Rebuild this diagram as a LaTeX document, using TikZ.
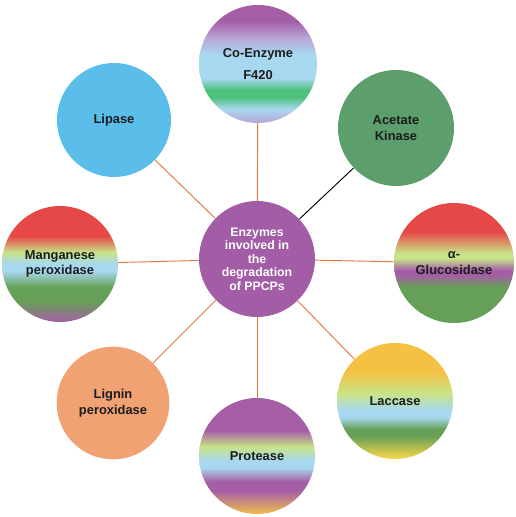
\documentclass[tikz,border=0pt]{standalone}
\usepackage{fontspec}
\setmainfont{Liberation Sans}
\usetikzlibrary{positioning}

\definecolor{hubpurple}{HTML}{A35CA6}
\definecolor{spokeorange}{HTML}{E2763F}
\definecolor{inkdark}{HTML}{1C1C1C}
\definecolor{lipaseblue}{HTML}{5BBDEA}
\definecolor{kinasegreen}{HTML}{5C9E6C}
\definecolor{ligninorange}{HTML}{F0A273}

% band colours
\definecolor{bPurple}{HTML}{A55EA6}
\definecolor{bLavender}{HTML}{B8A6D8}
\definecolor{bSky}{HTML}{A8D8F0}
\definecolor{bMint}{HTML}{4DC07A}
\definecolor{bRed}{HTML}{E64848}
\definecolor{bLime}{HTML}{C8E488}
\definecolor{bGreen}{HTML}{66A058}
\definecolor{bGold}{HTML}{F5C142}
\definecolor{bYellow}{HTML}{EED24A}
\definecolor{bAmber}{HTML}{EBB453}

% shadings run bottom (25bp) to top (75bp)
\pgfdeclareverticalshading{coenzymeshade}{100bp}{
  color(0bp)=(bLavender); color(25bp)=(bLavender); color(31bp)=(bSky);
  color(36bp)=(bMint); color(39bp)=(bMint); color(44bp)=(bSky);
  color(54bp)=(bSky); color(61bp)=(bLavender); color(68bp)=(bPurple);
  color(100bp)=(bPurple)}
\pgfdeclareverticalshading{glucoshade}{100bp}{
  color(0bp)=(bGreen); color(40bp)=(bGreen); color(45bp)=(bPurple);
  color(47bp)=(bPurple); color(52bp)=(bLime); color(54bp)=(bLime);
  color(63bp)=(bRed); color(100bp)=(bRed)}
\pgfdeclareverticalshading{manganeseshade}{100bp}{
  color(0bp)=(bPurple); color(25bp)=(bPurple); color(34bp)=(bGreen);
  color(40bp)=(bGreen); color(47bp)=(bSky); color(50bp)=(bSky);
  color(55bp)=(bLime); color(62bp)=(bRed); color(100bp)=(bRed)}
\pgfdeclareverticalshading{laccaseshade}{100bp}{
  color(0bp)=(bYellow); color(26bp)=(bYellow); color(35bp)=(bGreen);
  color(38bp)=(bGreen); color(43bp)=(bSky); color(46bp)=(bSky);
  color(53bp)=(bLime); color(63bp)=(bGold); color(100bp)=(bGold)}
\pgfdeclareverticalshading{proteaseshade}{100bp}{
  color(0bp)=(bAmber); color(26bp)=(bAmber); color(35bp)=(bPurple);
  color(39bp)=(bPurple); color(45bp)=(bSky); color(48bp)=(bSky);
  color(54bp)=(bLime); color(61bp)=(bPurple); color(100bp)=(bPurple)}

\begin{document}
\begin{tikzpicture}[
		enzyme/.style={circle, minimum size=3.48cm, inner sep=0pt, align=center,
			text=inkdark, font=\bfseries\fontsize{11}{13.5}\selectfont},
		hubnode/.style={enzyme, fill=hubpurple, text=white,
			font=\bfseries\fontsize{10.5}{11.5}\selectfont},
		spoke/.style={draw=spokeorange, line width=0.8pt},
	]
		\useasboundingbox (0,0) rectangle (15.45,15.51);

		\node[hubnode] (hub) at (7.71,7.74) {Enzymes\\involved in\\the\\degradation\\of PPCPs};

		\node[enzyme, shading=coenzymeshade, minimum size=3.54cm] (coenzyme) at (7.74,13.59) {Co-Enzyme\\[6pt]F420};
		\node[enzyme, fill=kinasegreen] (kinase) at (11.88,11.67) {Acetate\\Kinase};
		\node[enzyme, shading=glucoshade, minimum size=3.6cm] (gluco) at (13.62,7.62) {α-\\Glucosidase};
		\node[enzyme, shading=laccaseshade] (laccase) at (11.85,3.48) {Laccase};
		\node[enzyme, shading=proteaseshade] (protease) at (7.71,1.83) {Protease};
		\node[enzyme, fill=ligninorange, minimum size=3.38cm] (lignin) at (3.39,3.42) {Lignin\\peroxidase};
		\node[enzyme, shading=manganeseshade] (manganese) at (1.80,7.59) {Manganese\\peroxidase};
		\node[enzyme, fill=lipaseblue, minimum size=3.42cm] (lipase) at (3.42,11.91) {Lipase};

		\draw[spoke] (hub) -- (coenzyme);
		\draw[line width=0.8pt, black] (hub) -- (kinase);
		\draw[spoke] (hub) -- (gluco);
		\draw[spoke] (hub) -- (laccase);
		\draw[spoke] (hub) -- (protease);
		\draw[spoke] (hub) -- (lignin);
		\draw[spoke] (hub) -- (manganese);
		\draw[spoke] (hub) -- (lipase);
	\end{tikzpicture}
\end{document}
